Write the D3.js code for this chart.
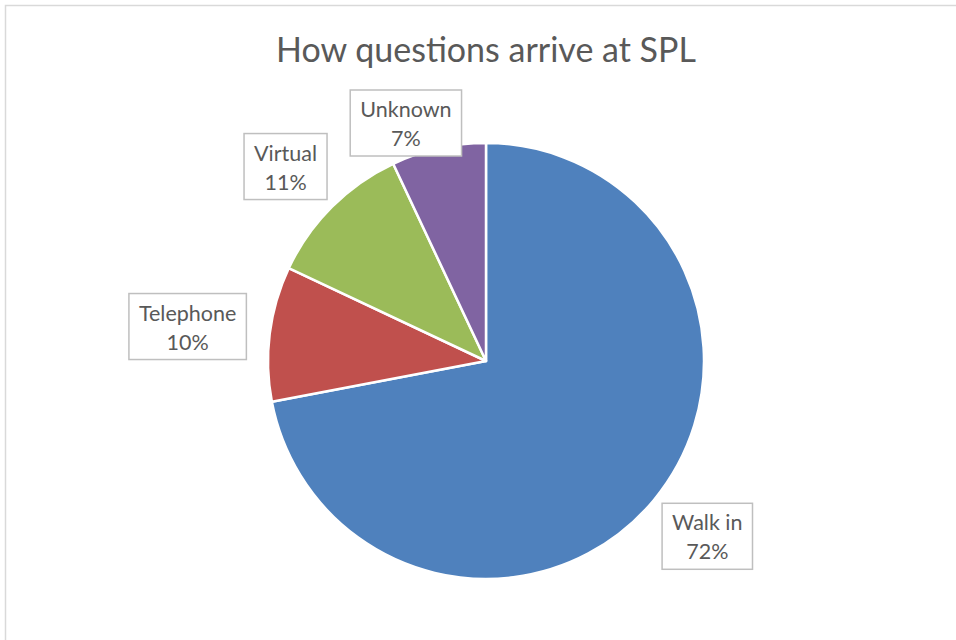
<!DOCTYPE html>
<html><head><meta charset="utf-8">
<script src="https://cdn.jsdelivr.net/npm/d3@7"></script>
<style>body{margin:0;background:#fff}svg{display:block}</style>
</head><body>
<svg id="c" width="956" height="640"></svg>
<script>
const title = "How questions arrive at SPL";
const categories = ["Walk in", "Telephone", "Virtual", "Unknown"];
const values = [72, 10, 11, 7];
const colors = ["#4f81bd", "#c0504d", "#9bbb59", "#8064a2"];

const W = 956, H = 640;
const cx = 486, cy = 361, R = 218;
const font = "Lato, 'Open Sans', sans-serif";
const textColor = "#595959";

const svg = d3.select("#c");
// chart area border
svg.append("rect").attr("x", 5.5).attr("y", 5.5).attr("width", W + 20).attr("height", H + 20)
  .attr("fill", "#fff").attr("stroke", "#d9d9d9").attr("stroke-width", 1.5);

svg.append("text").attr("x", cx).attr("y", 62).attr("text-anchor", "middle")
  .attr("font-family", font).attr("font-size", 34).attr("fill", textColor).text(title);

const data = categories.map((c, i) => ({cat: c, value: values[i], color: colors[i]}));
const pie = d3.pie().value(d => d.value).sort(null);
const arcs = pie(data);
const arc = d3.arc().innerRadius(0).outerRadius(R);

const g = svg.append("g").attr("transform", `translate(${cx},${cy})`);
g.selectAll("path").data(arcs).join("path")
  .attr("d", arc).attr("fill", d => d.data.color)
  .attr("stroke", "#fff").attr("stroke-width", 2.5).attr("stroke-linejoin", "round");

const total = d3.sum(values);
const fmt = v => Math.round(v / total * 100) + "%";
const plotTop = 90 - cy;
const gap = 24;

arcs.forEach(a => {
  const mid = (a.startAngle + a.endAngle) / 2;
  const dx = Math.sin(mid), dy = -Math.cos(mid);
  const lg = g.append("g");
  const rect = lg.append("rect").attr("fill", "#fff").attr("stroke", "#bfbfbf").attr("stroke-width", 1.5);
  const t1 = lg.append("text").attr("text-anchor", "middle").attr("font-family", font)
    .attr("font-size", 21.5).attr("fill", textColor).text(a.data.cat);
  const t2 = lg.append("text").attr("text-anchor", "middle").attr("font-family", font)
    .attr("font-size", 21.5).attr("fill", textColor).text(fmt(a.data.value));
  const tw = Math.max(t1.node().getComputedTextLength(), t2.node().getComputedTextLength());
  const bw = tw + 20, bh = 66;
  let x = (R + gap) * dx + bw / 2 * dx;
  let y = (R + gap) * dy + bh / 2 * dy;
  if (y - bh / 2 < plotTop) { x -= (plotTop + bh / 2 - y) * 0.5; y = plotTop + bh / 2; }
  rect.attr("x", x - bw / 2).attr("y", y - bh / 2).attr("width", bw).attr("height", bh);
  t1.attr("x", x).attr("y", y - 6);
  t2.attr("x", x).attr("y", y + 23);
});
</script>
</body></html>
